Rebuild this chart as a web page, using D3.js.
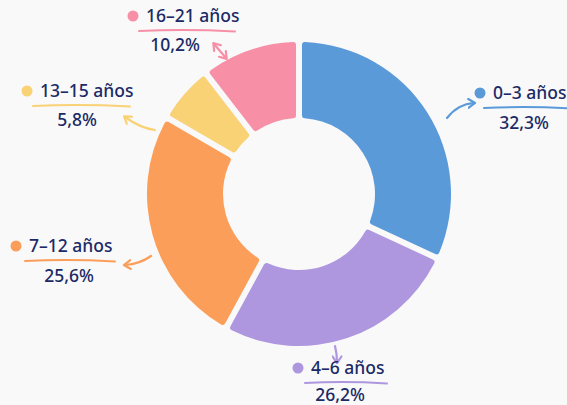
<!DOCTYPE html>
<html>
<head>
<meta charset="utf-8">
<script src="https://cdn.jsdelivr.net/npm/d3@7"></script>
<style>
  html, body { margin: 0; padding: 0; background: #f9f9f9; }
  svg { display: block; }
  text { font-family: "Noto Sans", "Open Sans", sans-serif; fill: #1b2a66; }
</style>
</head>
<body>
<div id="chart"></div>
<script>
const categories = ["0–3 años", "4–6 años", "7–12 años", "13–15 años", "16–21 años"];
const values = [32.3, 26.2, 25.6, 5.8, 10.2];
const valueLabels = ["32,3%", "26,2%", "25,6%", "5,8%", "10,2%"];
const colors = ["#5b9ad9", "#ae97df", "#fb9e5a", "#f9d275", "#f78fa7"];

const width = 567, height = 405;
const cx = 299, cy = 194;
const outerR = 152, innerR = 76;

// label placement: dot x, baseline y, underline x1..x2, value centre x, value baseline
const labelPos = [
  {x: 480, y: 99, u1: 484, u2: 572, vx: 524, vy: 129},
  {x: 298, y: 374, u1: 305, u2: 387, vx: 340, vy: 401},
  {x: 16, y: 252, u1: 25, u2: 115, vx: 69, vy: 282},
  {x: 27, y: 97, u1: 33, u2: 130, vx: 77, vy: 126},
  {x: 133, y: 22, u1: 139, u2: 235, vx: 175, vy: 51}
];
// hand-drawn arrow paths, one per slice
const arrows = [
  {d: "M447,118 Q458,104 474,103", head: "end"},
  {d: "M335,346 Q337,354 337,362", head: "end"},
  {d: "M151,256 Q140,264 125,265", head: "end"},
  {d: "M155,130 Q140,128 125,117", head: "end"},
  {d: "M214,44 L226,58", head: "both"}
];

const data = categories.map((c, i) => ({name: c, value: values[i], label: valueLabels[i], color: colors[i]}));

const svg = d3.select("#chart")
  .append("svg")
  .attr("width", width)
  .attr("height", height);

const defs = svg.append("defs");
data.forEach((d, i) => {
  defs.append("marker")
    .attr("id", "arrow" + i)
    .attr("viewBox", "0 0 10 10")
    .attr("refX", 6)
    .attr("refY", 5)
    .attr("markerWidth", 5)
    .attr("markerHeight", 5)
    .attr("orient", "auto-start-reverse")
    .append("path")
    .attr("d", "M1,1 L7,5 L1,9")
    .attr("fill", "none")
    .attr("stroke", d.color)
    .attr("stroke-width", 2)
    .attr("stroke-linecap", "round")
    .attr("stroke-linejoin", "round");
});

const pie = d3.pie()
  .value(d => d.value)
  .sort(null)
  .padAngle(0.035);

const arc = d3.arc()
  .innerRadius(innerR)
  .outerRadius(outerR)
  .cornerRadius(3);

const g = svg.append("g")
  .attr("transform", `translate(${cx},${cy})`);

g.selectAll("path")
  .data(pie(data))
  .enter()
  .append("path")
  .attr("d", arc)
  .attr("fill", d => d.data.color);

// arrows
svg.selectAll(".arrow")
  .data(arrows)
  .enter()
  .append("path")
  .attr("class", "arrow")
  .attr("d", d => d.d)
  .attr("fill", "none")
  .attr("stroke", (d, i) => colors[i])
  .attr("stroke-width", 2.2)
  .attr("stroke-linecap", "round")
  .attr("marker-end", (d, i) => `url(#arrow${i})`)
  .attr("marker-start", (d, i) => d.head === "both" ? `url(#arrow${i})` : null);

// labels
const lab = svg.selectAll(".lab")
  .data(data)
  .enter()
  .append("g")
  .attr("class", "lab");

lab.append("circle")
  .attr("cx", (d, i) => labelPos[i].x)
  .attr("cy", (d, i) => labelPos[i].y - 6)
  .attr("r", 5.5)
  .attr("fill", d => d.color);

lab.append("text")
  .attr("x", (d, i) => labelPos[i].x + 13)
  .attr("y", (d, i) => labelPos[i].y)
  .style("font-size", "17.5px")
  .style("font-weight", 500)
  .text(d => d.name);

lab.append("path")
  .attr("d", (d, i) => {
    const p = labelPos[i], uy = p.y + 9;
    return `M${p.u1},${uy} Q${(p.u1 + p.u2) / 2},${uy - 2} ${p.u2},${uy + 0.5}`;
  })
  .attr("fill", "none")
  .attr("stroke", d => d.color)
  .attr("stroke-width", 2)
  .attr("stroke-linecap", "round");

lab.append("text")
  .attr("x", (d, i) => labelPos[i].vx)
  .attr("y", (d, i) => labelPos[i].vy)
  .attr("text-anchor", "middle")
  .style("font-size", "17.5px")
  .style("font-weight", 500)
  .text(d => d.label);
</script>
</body>
</html>
